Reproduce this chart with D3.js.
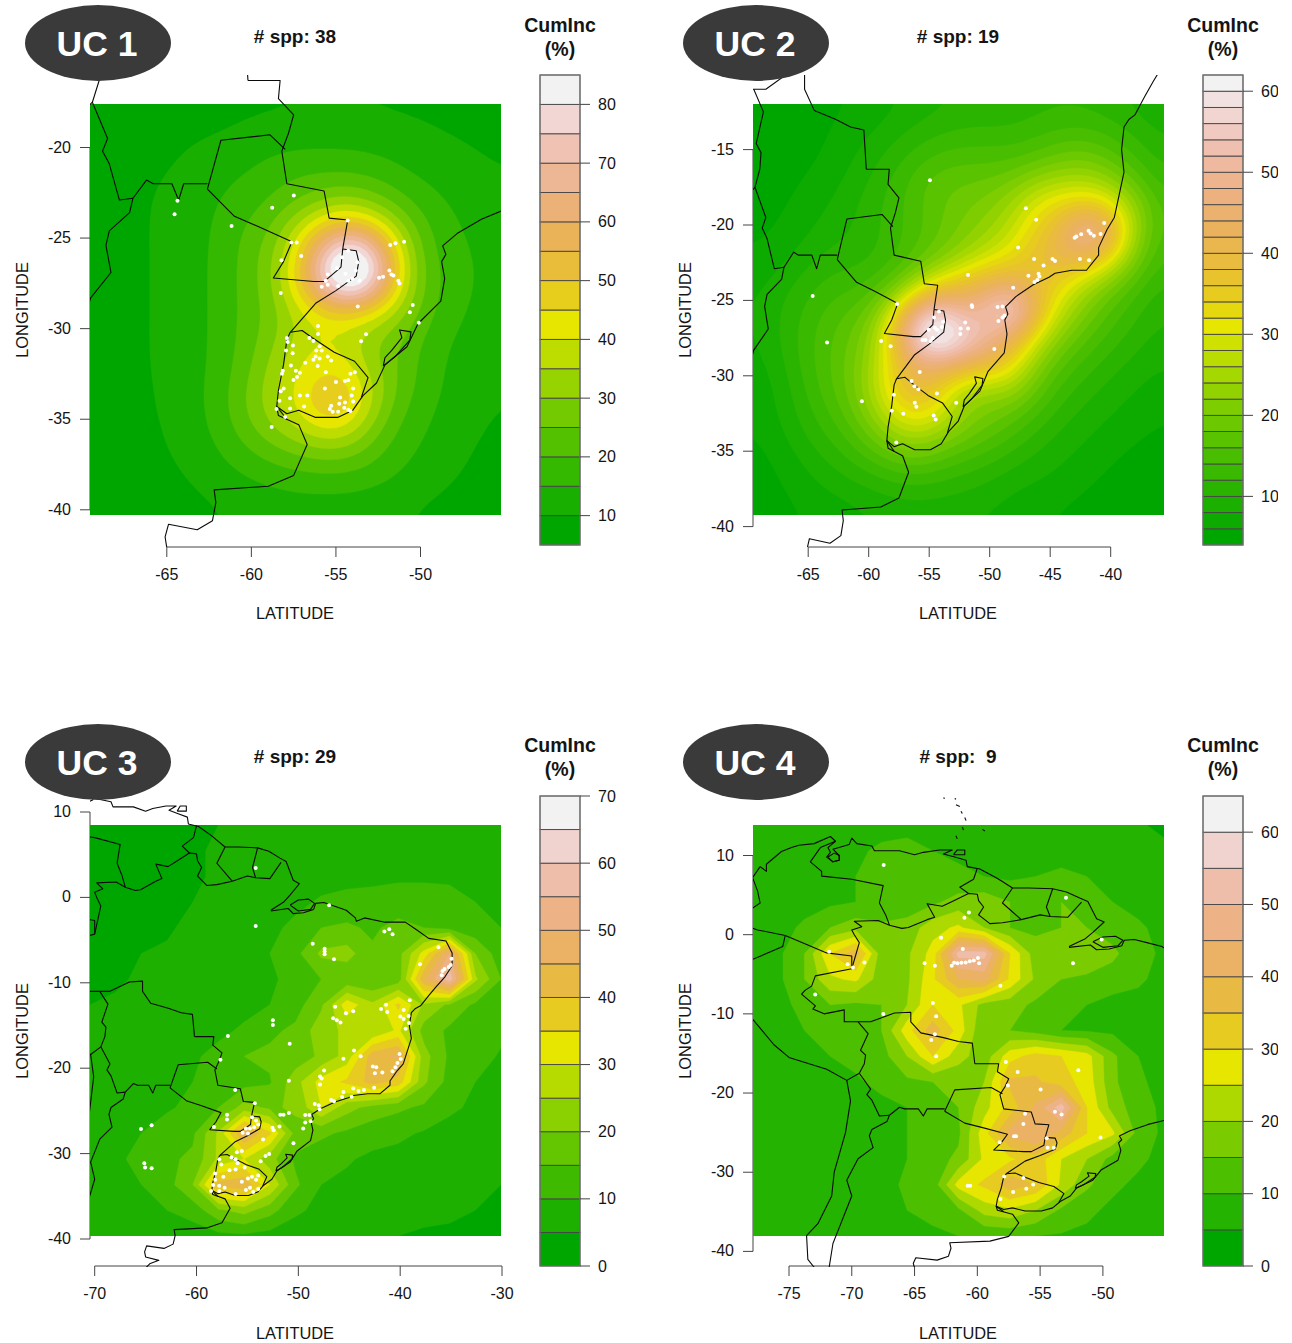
<!DOCTYPE html>
<html><head><meta charset="utf-8">
<style>html,body{margin:0;padding:0;background:#fff}svg{display:block}text{font-family:"Liberation Sans",Arial,sans-serif;fill:#141414}</style>
<script src="https://cdn.jsdelivr.net/npm/d3@7"></script>
</head><body><svg id="c" width="1292" height="1343"></svg>
<script>
// ---------- country outlines (lon, lat) ----------
const caribbeanCoast=[[-77.3,8.6],[-76.8,8.0],[-76.8,8.9],[-75.6,10.5],[-74.8,11.0],[-74.2,11.3],[-73,11.5],[-71.7,12.4],[-71.3,11.8],[-71.9,11.0],[-71.7,10.4],[-72,9.8],[-71.5,9.2],[-71,9.4],[-71,10],[-71.5,10.8],[-70.2,11.4],[-70,12.2],[-69.6,11.5],[-68.4,11.2],[-68.2,10.6],[-66.2,10.6],[-65,10.1],[-64.3,10.4],[-63,10.7],[-62,10.7],[-62.7,10.2],[-61.8,9.8],[-60.9,9.4],[-60.8,8.6],[-59.8,8.3],[-58.5,7.2],[-58.1,6.8],[-57.2,5.9],[-55.9,5.9],[-54,5.8],[-52.9,5.4],[-51.8,4.6],[-51.2,4.2],[-50.5,2.0],[-49.9,1.6],[-50.8,0.3],[-51.4,-0.5],[-52.7,-1.5]];
const atlanticCoast=[[-52.7,-1.6],[-51,-1.3],[-50.5,-1.9],[-49.5,-1.8],[-48.5,-1.4],[-48.3,-0.7],[-47.5,-0.6],[-46.5,-1],[-45.3,-1.5],[-44.4,-2.4],[-44.3,-2.8],[-43.5,-2.4],[-41.5,-2.9],[-39.5,-2.9],[-38.5,-3.7],[-37.2,-4.8],[-35.5,-5.1],[-34.9,-6.5],[-34.9,-8],[-35.6,-9.3],[-36.5,-10.5],[-37.2,-11.5],[-38.0,-12.7],[-38.5,-13],[-38.9,-13.5],[-39.1,-15],[-38.9,-16.5],[-39.3,-18],[-39.7,-19.5],[-40.3,-20.3],[-41,-21.5],[-41.0,-22],[-42,-23],[-43.2,-23],[-44.6,-23.2],[-45.1,-23.46],[-46.4,-23.96],[-47.84,-24.75],[-48.69,-25.43],[-48.5,-25.9],[-48.75,-26.3],[-48.57,-27.24],[-48.8,-28.48],[-50.15,-29.73],[-50.8,-31],[-52.1,-32],[-52.6,-33],[-53.4,-33.7],[-54.0,-34.5],[-54.9,-34.9],[-56.2,-34.9],[-57.2,-34.5],[-57.9,-34.7],[-58.5,-34.3],[-58.4,-34.8],[-57.2,-35.3],[-56.7,-36.4],[-57.5,-38.1],[-59,-38.7],[-62.2,-38.9],[-62.1,-39.6],[-62.3,-40.6],[-63.2,-41.1],[-64.9,-40.8],[-65.1,-41.5],[-65,-42.1],[-63.7,-42.5],[-64.6,-42.9],[-65,-43.4]];
const marajoIsland=[[-50.8,-0.9],[-50,-0.3],[-49,-0.2],[-48.4,-0.7],[-48.8,-1.4],[-50,-1.6],[-50.8,-0.9]];
const patosLagoon=[[-52.2,-32.06],[-51.5,-31.54],[-50.63,-30.63],[-50.56,-30.18],[-51.24,-30.07],[-51.1,-30.5],[-51.7,-31.2],[-52.1,-31.6],[-52.2,-32.06]];
const maracaiboRing=[[-71.9,9.8],[-71.4,10.3],[-71,10],[-71,9.4],[-71.5,9.2],[-71.9,9.8]];
const pacificCoast=[[-77.3,8.6],[-77.9,7.2],[-77.5,5.5],[-77.3,4],[-78.7,2.5],[-79,1.5],[-80,0.8],[-80.5,-0.5],[-81,-2.2],[-79.8,-2.5],[-80.3,-3.4],[-81.2,-4.5],[-81.2,-6],[-79.7,-7.2],[-78.5,-9.5],[-77.2,-12],[-76.2,-13.9],[-75,-15.5],[-72,-17],[-70.4,-18.4],[-70.1,-21],[-70.5,-25],[-71.4,-30],[-71.6,-33],[-72.7,-36.5],[-73.6,-38],[-73.5,-41],[-73,-42],[-73.8,-43]];
const andesBorder=[[-67,-22.8],[-67.2,-23.6],[-68.4,-24.6],[-68.6,-25.4],[-68.3,-26.9],[-69.5,-28.3],[-70.4,-31],[-70,-33],[-70.5,-35],[-71,-37],[-71.5,-39],[-71.8,-42],[-71.5,-44]];
const chileBolivia=[[-70.4,-18.4],[-69.4,-17.5],[-68.5,-19.5],[-68.8,-20.2],[-68.4,-20.9],[-67.8,-22.9],[-67,-22.8]];
const boliviaArgentina=[[-67,-22.8],[-66.2,-21.8],[-65.8,-22],[-64.7,-22],[-64.3,-22.9],[-64,-22],[-62.6,-22]];
const peruBolivia=[[-69.4,-17.5],[-69,-16.3],[-68.9,-15.2],[-69.3,-14.6],[-68.9,-13.2],[-68.7,-12.5],[-69.5,-11]];
const brazilWest=[[-60.2,-16.3],[-60.4,-13.7],[-61.5,-13.5],[-62.7,-13],[-64.5,-12.4],[-65.3,-11],[-65.3,-9.8],[-66.6,-9.9],[-68.5,-11],[-69.5,-11],[-70.6,-11],[-70.6,-9.5],[-72.2,-10],[-73.1,-9.4],[-72.9,-9],[-74,-7.5],[-73.7,-7],[-73.2,-6.5],[-72.9,-5.2],[-70,-4.3],[-69.4,-1],[-69.8,0],[-70,0.6],[-69.2,1],[-69.8,1.7],[-67.9,1.8],[-67,1.2],[-66,0.8],[-65.5,0.9],[-64,1.9],[-63.4,2.2],[-64,3.9],[-62.8,3.6],[-62,4.2],[-60.7,5.2],[-60,5.1],[-59.9,4.3],[-59.5,3.5],[-59.9,2.5],[-59,1.4],[-58,1.5],[-56.5,1.9],[-55,2.5],[-54.2,2.3],[-52.8,2.2],[-51.7,4.1]];
const brazilSouthWest=[[-60.2,-16.3],[-58.3,-16.3],[-58.4,-17.3],[-57.5,-18.2],[-57.8,-19.2],[-58.2,-20.2],[-57.9,-22],[-55.7,-22.4],[-55.4,-23.9],[-54.3,-24],[-54.6,-25.6]];
const paraguayNorth=[[-58.0,-20.1],[-58.9,-19.3],[-61.8,-19.6],[-62.6,-22.3]];
const paraguaySouth=[[-62.6,-22.3],[-61,-23.8],[-59.5,-24.4],[-57.6,-25.2],[-58.1,-26.3],[-58.7,-27.2],[-56.3,-27.4],[-55.7,-27.4],[-54.7,-26.6],[-54.6,-25.6]];
const misionesEast=[[-54.6,-25.6],[-53.8,-25.7],[-53.65,-26.3],[-53.8,-27.1],[-55,-27.9],[-56.2,-28.6],[-57.7,-30.2]];
const uruguayLoop=[[-57.7,-30.2],[-57,-30.1],[-56.4,-30.5],[-55.1,-31.3],[-53.9,-31.8],[-53.1,-32.7],[-53.5,-33.8]];
const uruguayRiver=[[-57.7,-30.2],[-57.9,-30.6],[-58.1,-32],[-58.4,-33.4],[-58.5,-34.3]];
const parana=[[-58.5,-34.3],[-57.9,-35]];
const venezuelaColombia=[[-71.3,11.8],[-72.5,11],[-73.3,9.2],[-72.4,8],[-72.4,7.4],[-70,7],[-67.5,6.2],[-67.8,4],[-67.3,2.5],[-67,1.2]];
const colombiaEcuador=[[-79,1.4],[-77.5,0.6],[-75.3,-0.1]];
const colombiaPeru=[[-75.3,-0.1],[-73.5,-1.3],[-72,-2.3],[-70,-2.7],[-70,-4.2]];
const ecuadorPeru=[[-75.3,-0.1],[-75.5,-1.5],[-78.3,-3.4],[-79,-5],[-80.3,-3.4]];
const guyanaVenezuela=[[-60.7,5.2],[-61.4,6],[-60.3,7],[-60,8.4]];
const guyanaSuriname=[[-57.2,5.9],[-58,4],[-56.5,1.9]];
const surinameGuiana=[[-54,5.8],[-54.5,3.5],[-54.2,2.3]];
const antilles=[[[-62.7,17.3],[-62.6,17.2]],[[-61.8,17.2],[-61.7,17.1]],[[-61.7,16.4],[-61.4,16.2]],[[-61.3,15.6],[-61.2,15.3]],[[-61,14.8],[-60.9,14.4]],[[-61.2,13.6],[-61.1,13.2]],[[-61.7,12.5],[-61.6,12.1]],[[-59.6,13.3],[-59.4,13.1]]];
const trinidad=[[-61.9,10.1],[-61,10.1],[-61,10.7],[-61.6,10.7],[-61.9,10.1]];
const borders=[caribbeanCoast,atlanticCoast,marajoIsland,patosLagoon,maracaiboRing,pacificCoast,andesBorder,chileBolivia,boliviaArgentina,peruBolivia,brazilWest,brazilSouthWest,paraguayNorth,paraguaySouth,misionesEast,uruguayLoop,uruguayRiver,parana,venezuelaColombia,colombiaEcuador,colombiaPeru,ecuadorPeru,guyanaVenezuela,guyanaSuriname,surinameGuiana,trinidad,...antilles];

// ---------- UC 1 ----------
const grid1=[
6,6,7,7,7,8,9,9,9.5,9.5,9.5,9.5,9,9,8,7,6,
6,6,7,8,9,9.5,10.5,11,11.5,11.5,11.5,11.5,11,10.5,10,9,8,
6,7,8,9,11,12,13,15,16,16,16,15,13.5,12,11,10.5,9.5,
7,8,9,10.5,12,14,15.5,18,21,21,21,20,17,14.5,13,11.5,10,
7,8,9.5,11,13,15,18,21,24,31,36,30,23,18,15,13,11,
7,8,9.5,11,13,15.5,21,24,38,55,62,55,36,20,16,14,11.5,
7,8,9.5,11,13,16,21.5,27,42,72,112,88,42,22,17,15,12,
7,8,9.5,11,13,16,21.5,27,46,76,108,84,44,22,18,15,12,
7,8,9.5,11,13,16,21.5,25,36,42,46,42,34,22,17,14,11.5,
7,8,9.5,11,13,16,21.5,27,35,41,36,30,26,19,15,13,11,
7,8,9.5,11,13,16,22,30,40,42,41,30,24,18,14,12,10.5,
7,8,9,11,13,17,24,33,41,50,51,36,24,18,13.5,11.5,10,
7,8,9,10.5,13,17,25,33,41,52,52,34,20,16,13,11,9.5,
6.5,7.5,8.5,10,12.5,15.5,21,27,31,36,36,24,18,15,12,10,9,
6,7,8,9.5,11,14,16.5,19,21,22,22,20,16,13,11,9.5,8,
6,6.5,7,8,10,11,13,14,15,15,15,14,13,11,10,8.5,7,
6,6,6.5,7,8,9.5,10.5,11,11.5,11.5,11.5,11,10,9,8,7,6];
const points1=[[-64.37,-22.94],[-64.54,-23.69],[-61.17,-24.34],[-58.77,-23.33],[-57.49,-22.65],[-54.31,-24.03],[-57.63,-25.25],[-57.32,-25.25],[-57.05,-25.99],[-58.22,-26.22],[-58.26,-28.03],[-51.79,-25.38],[-51.48,-25.29],[-50.97,-25.2],[-53.71,-28.78],[-50.46,-28.69],[-50.63,-29.09],[-50.1,-29.68],[-53.22,-30.31],[-53.51,-30.7],[-56.06,-29.86],[-56.06,-30.29],[-57.9,-30.52],[-57.85,-30.74],[-57.54,-30.93],[-57.95,-31.2],[-57.56,-31.36],[-56.57,-30.52],[-56.33,-30.68],[-56.16,-31.2],[-55.96,-30.97],[-55.84,-31.2],[-56.2,-31.54],[-55.96,-31.65],[-56.33,-31.72],[-56.08,-32.06],[-55.48,-31.54],[-55.28,-31.76],[-58.14,-32.33],[-58.19,-32.49],[-57.66,-32.03],[-57.37,-32.33],[-57.13,-32.44],[-57.3,-32.67],[-57.51,-32.83],[-56.81,-31.88],[-55.6,-32.4],[-55,-32.94],[-54.46,-32.89],[-54.27,-32.85],[-54.14,-32.49],[-53.88,-32.4],[-53.98,-33.3],[-55.65,-33.3],[-58.09,-33.3],[-58.26,-33.46],[-57.71,-33.84],[-57.13,-33.69],[-56.69,-33.69],[-58.34,-33.98],[-58.51,-34.43],[-57.71,-34.41],[-56.88,-34.3],[-58,-34.88],[-58.8,-35.43],[-55.28,-34.25],[-55.36,-34.43],[-54.75,-33.8],[-54.8,-34.14],[-54.46,-34.07],[-55.19,-34.59],[-54.87,-34.59],[-54.51,-34.36],[-54.27,-34.48],[-54.07,-33.69],[-53.98,-34.02],[-54.14,-34.54],[-54.63,-26.06],[-54.27,-25.7],[-53.73,-26.33],[-53.83,-26.79],[-54.44,-26.97],[-54.94,-26.67],[-55.48,-27.01],[-55.84,-27.69],[-55.48,-27.58],[-55.6,-27.35],[-54.87,-27.65],[-54.27,-27.35],[-54.02,-27.24],[-53.61,-27.35],[-52.45,-27.19],[-52.21,-27.13],[-51.84,-26.79],[-51.72,-27.01],[-51.6,-27.06],[-51.31,-27.35],[-51.24,-27.51]];
const xTicks1=[-65,-60,-55,-50], yTicks1=[-20,-25,-30,-35,-40];
const legendTicks1=[10,20,30,40,50,60,70,80];

// ---------- UC 2 ----------
const grid2=[
5,5,5,5.5,6,7,8,9,10,10,10,11,11,11,10,9,8,
5,5,5,6,7,8,10,11,12,12,12,13,14,14,13,11,9,
5,5,5.5,6,8,10,12,14,15,15,14.5,15,18,19,16,13,10.5,
5,5,6,7,9,11,14,18,18,18,19,24,25,26,22,16,12,
5,5.5,7,8,10,12,14.5,17,19,21,24,32,35,36,33,22,13.5,
5.5,6,7.5,9,10,12,14,17,20,23,26,36,38,64,46,20,14,
6,7,9,11,11,12,14.5,18,22,28,32,38,44,40,32,18,13,
7,9,11,13,13,14,19,30,38,42,42,38,32,25,19,14,11,
7.5,10,12,15,16,20,40,60,46,48,74,40,28,20,15,12,10,
7,10,13,16,18,25,54,80,66,52,44,30,21,16,13,11,9,
7,9,13,16,19,27,40,48,44,44,36,22,16,13,11,9,8,
6,8,12,16,19,30,42,38,24,22,27,18,13,11,9,8,7,
6,8,11,14,18,26,34,34,24,20,18,14,11,9,8,7,6,
5.5,7,10,12,15,20,26,23,19,17,14,11,9,8,7,6,5.5,
5,6,8,10,12,14,16,15,13,12,10,9,8,7,6,5,5,
5,5.5,7,8,9,10,11,11,10,9.5,8,7.5,7,6,5,4.5,4.5,
5,5,6,6.5,7,8,8,8,8,7.5,7,6,5.5,5,4.5,4.2,4.2];
const points2=[[-54.94,-17.04],[-47.01,-18.89],[-46.16,-19.65],[-40.54,-19.86],[-41.83,-20.38],[-41.66,-20.57],[-41.39,-20.71],[-40.84,-20.6],[-42.44,-20.62],[-42.84,-20.76],[-42.98,-20.84],[-47.65,-21.49],[-46.33,-22.25],[-44.81,-22.25],[-44.6,-22.39],[-45.55,-22.69],[-42.54,-22.25],[-41.79,-22.34],[-45.96,-23.23],[-46.8,-23.37],[-45.89,-23.42],[-46.06,-23.64],[-46.3,-23.78],[-51.79,-23.31],[-48.06,-24.16],[-64.63,-24.7],[-57.65,-25.24],[-51.48,-25.32],[-51.45,-25.43],[-49.35,-25.43],[-48.94,-25.41],[-48.77,-26],[-48.94,-26.14],[-49.28,-26.36],[-52.02,-26.47],[-51.79,-26.87],[-52.4,-26.87],[-52.43,-27.23],[-54.6,-26.14],[-54.19,-25.73],[-53.85,-26.41],[-53.96,-26.76],[-54.53,-26.82],[-55.04,-26.95],[-54.36,-26.95],[-54.7,-27.5],[-55.55,-27.63],[-55.31,-27.63],[-54.87,-27.69],[-63.44,-27.8],[-58.97,-27.69],[-58.19,-28.04],[-49.62,-28.23],[-55.78,-29.75],[-56.46,-30.35],[-56.22,-30.7],[-55.89,-30.89],[-54.36,-31.17],[-57.92,-31.25],[-56.19,-31.79],[-56.06,-32.06],[-52.77,-31.79],[-58.09,-32.31],[-57.14,-32.52],[-54.63,-32.63],[-54.46,-32.9],[-57.72,-34.43],[-60.56,-31.68]];
const xTicks2=[-65,-60,-55,-50,-45,-40], yTicks2=[-15,-20,-25,-30,-35,-40];
const legendTicks2=[10,20,30,40,50,60];

// ---------- UC 3 ----------
const grid3=[
3,3,3.5,4,4.5,5,6,7,7.5,8,8,8,8,8,8,8,8,
3,3.5,3.5,4,4.5,5.5,6,7,8,8.5,8.5,9,9,9,9,8.5,8,
3,3.5,4,4,4.5,5.5,6.5,7,8,8.5,9,9,9.5,9.5,9.5,9,8.5,
2.5,3,3.5,4.5,5,6,7,8,9,10.5,11,11.5,11.5,11.5,11,10,9,
3,3.5,4,4.5,6,7,8,9,11,15,16,14,17,15,13,11.5,10,
3.5,4,5,5.5,7,8,9,10,13.5,21,22,16,18,32,50,20,12,
4,4.5,5.5,6,7,8,9,9,12,15,16,15,17,44,58,26,15,
5,5.5,6,6.5,7,8,8,10,13,19,33,26,36,24,19,14,13,
5,6,6.5,7,8,8.5,11,14,16,23,26,25,31,18,14,13,11,
6,7,7.5,8,9,12,15,16,17,21,27,43,46,22,14,12,9.5,
6,7,8,9,10,11,13,14.5,23,32,36,42,38,21,13,10,8,
6,7,8,9.5,11,15,22,19,21,30,22,18,16,14,11,9,7,
7,9,10,12,14,26,46,36,18,16,14,12,11,9.5,8,7,6,
7,9,11.5,14,16,26,30,22,14,12,10.5,9,8.5,8,7,6,5.5,
7,8,10,13,20,42,44,30,16,10,9,8,7,6.5,6,5.5,5,
6,7,8,10,12,19,22,17,11,8.5,8,7,6.5,6,5.5,5,4.5,
6,6,6.5,7,7.5,8.5,9,8,7,6.5,6,5.5,5,4.5,4.5,4,3.5];
const points3=[[-54.19,3.44],[-46.98,-0.92],[-54.19,-3.36],[-41.55,-3.98],[-41.07,-3.74],[-40.75,-4.32],[-48.59,-5.42],[-47.42,-6],[-47.42,-6.33],[-47.42,-6.67],[-46.5,-7.24],[-36.24,-5.85],[-34.95,-7.19],[-38.05,-7.82],[-35.84,-8.63],[-35.64,-8.39],[-35.23,-8.15],[-35.03,-7.91],[-35.92,-9.11],[-39.06,-12.03],[-46.38,-12.8],[-41.39,-12.56],[-41.87,-13.08],[-41.27,-13.42],[-44.61,-13.32],[-45.33,-13.56],[-46.58,-14.14],[-46.22,-14.38],[-45.86,-14.66],[-52.5,-14.38],[-52.5,-14.95],[-39.66,-13.18],[-39.98,-13.95],[-39.66,-14.23],[-39.18,-13.9],[-39.13,-14.71],[-39.46,-15.38],[-56.92,-16.24],[-50.85,-17.15],[-44.53,-17.92],[-43.88,-18.59],[-45.57,-18.88],[-40.06,-18.35],[-39.94,-18.93],[-40.26,-19.4],[-40.46,-19.88],[-40.75,-20.36],[-42.68,-19.79],[-42.35,-19.88],[-42.48,-20.6],[-41.75,-20.51],[-57.65,-19.02],[-47.47,-20.27],[-47.87,-20.98],[-47.71,-21.22],[-50.93,-21.46],[-47.87,-21.9],[-42.56,-22.28],[-44.61,-22.37],[-44.09,-22.66],[-43.56,-22.56],[-45.57,-22.8],[-44.77,-23.33],[-45.7,-23.38],[-46.78,-23.71],[-46.5,-23.86],[-56.2,-22.56],[-54.27,-24.1],[-48.39,-24.19],[-47.99,-24.34],[-47.91,-24.81],[-51.77,-25.44],[-51.45,-25.44],[-50.93,-25.25],[-49.32,-25.49],[-48.91,-25.49],[-49.32,-26.35],[-48.79,-26.2],[-49.52,-27.07],[-57,-25.44],[-57,-26.01],[-58.29,-26.88],[-64.41,-26.68],[-65.45,-27.11],[-54.55,-25.73],[-54.15,-26.11],[-53.94,-26.59],[-54.35,-26.92],[-54.75,-27.07],[-54.95,-27.64],[-55.47,-27.55],[-55.15,-27.07],[-52.54,-26.97],[-52.42,-27.26],[-51.85,-26.83],[-53.46,-28.36],[-50.48,-28.79],[-56.04,-29.84],[-55.55,-29.7],[-52.86,-30.04],[-53.22,-30.28],[-53.7,-30.9],[-57.77,-30.66],[-57.57,-31.28],[-56.56,-30.42],[-56.16,-30.66],[-55.96,-31.14],[-55.27,-31.62],[-56.16,-31.86],[-56.76,-31.95],[-58.17,-32.34],[-58.17,-33.05],[-57.36,-32.72],[-58.37,-33.68],[-57.77,-33.77],[-57.24,-34.01],[-58.57,-34.39],[-57.77,-34.39],[-55.55,-33.29],[-54.95,-32.91],[-54.55,-32.72],[-53.94,-32.57],[-54.15,-33.05],[-55.15,-34.25],[-54.75,-34.01],[-54.43,-34.49],[-53.94,-34.15],[-56.16,-34.73],[-65.13,-31.14],[-65.05,-31.62],[-64.41,-31.71]];
const xTicks3=[-70,-60,-50,-40,-30], yTicks3=[10,0,-10,-20,-30,-40];
const legendTicks3=[0,10,20,30,40,50,60,70];

// ---------- UC 4 ----------
const grid4=[
6,6,7,7,8,8,8,7,7,7,7,7,7,6.5,6,5.5,4,
6,7,7,8,9,11,12,10,9,8,8,8,8,7,7,6.5,6,
6,7,8,9,10,11,11,11,11,10,9,10,11,10,8,7,6,
6,7,8,9,10,11,12,14,17,18,15,13,15,13,10,8,7,
6,8,11,15,18,16,17,23,26,20,15,14,15,15,13,11,8,
6,9,15,30,38,17,19,27,52,52,30,17,20,19,16,12,9,
6,9,15,24,26,17,19,29,40,42,29,19,15,14,13,11,8,
6,8,12,15,14,15,20,30,26,18,17,14,13,10,8,8,6.5,
6,7,10,11,13,15,28,38,28,15,15,13,10,9.5,9,8,7,
6,7,9,10,11,13,20,30,22,17,28,32,30,27,16,10,8,
5.5,6.5,8,9,9.5,11,14,15,16,20,36,36,32,28,16,11,8,
5,6,7.5,8,8.5,9,10,13,15,23,32,41,53,30,18,12,9,
5,6,7,8,8.5,9,10,13,14,28,42,45,38,30,26,13,9,
5,6,7,8,8,9,10,13,16,26,29,33,25,20,13,11,8.5,
5,6,7,8,8,9,10.5,12,27,31,38,35,24,16,11,9,7,
5,6,7,7.5,8,9,10,11.5,14,22,24,20,14,11,9,8,6,
5,6,6.5,7,7.5,8,8,9,10,10.5,11,10,9.5,9,8,7,5];
const points4=[[-67.46,8.81],[-52.94,4.67],[-60.67,2.81],[-61.03,2.13],[-62.89,-0.4],[-50.1,-0.61],[-71.8,-2.16],[-61.16,-1.8],[-52.38,-3.61],[-64.2,-3.61],[-63.38,-3.92],[-68.99,-3.51],[-70.33,-3.72],[-69.91,-4.13],[-59.95,-2.94],[-60.28,-3.25],[-60.6,-3.35],[-60.93,-3.51],[-61.26,-3.56],[-61.58,-3.61],[-61.85,-3.56],[-62.04,-3.92],[-59.86,-3.61],[-58.16,-6.46],[-72.91,-7.55],[-63.54,-8.63],[-67.49,-10.03],[-63.28,-10.29],[-63.38,-12.57],[-63.67,-13.29],[-63.28,-15.36],[-57.73,-16.09],[-56.79,-17.33],[-51.96,-17.12],[-57.57,-19.04],[-54.96,-19.55],[-56.2,-22.61],[-53.82,-22.35],[-53.29,-22.71],[-56.33,-23.9],[-57.08,-25.46],[-56.92,-25.46],[-54.47,-25.71],[-50.19,-25.61],[-58.22,-26.23],[-54.4,-26.91],[-53.91,-26.91],[-57.86,-30.53],[-56.33,-30.73],[-55.55,-31.56],[-56.1,-32.08],[-57.15,-32.49],[-58.16,-33.37],[-60.77,-31.72],[-60.57,-31.72]];
const xTicks4=[-75,-70,-65,-60,-55,-50], yTicks4=[10,0,-10,-20,-30,-40];
const legendTicks4=[0,10,20,30,40,50,60];

const titles=["UC 1","UC 2","UC 3","UC 4"];
const sppLabels=["# spp: 38","# spp: 19","# spp: 29","# spp:  9"];
const levels1=d3.range(5,86,5), levels2=d3.range(4,63,2), levels3=d3.range(0,71,5), levels4=d3.range(0,66,5);

// R terrain.colors palette
function terrain(n){
  const k=Math.floor(n/2), h=[4/12,2/12,0], s=[1,1,0], v=[0.65,0.9,0.95], out=[];
  const hsv=(H,S,V)=>{const i=Math.floor(H*6),f=H*6-i,p=V*(1-S),q=V*(1-f*S),t=V*(1-(1-f)*S);
    const [r,g,b]=[[V,t,p],[q,V,p],[p,V,t],[p,q,V],[t,p,V],[V,p,q]][i%6];
    return d3.rgb(r*255,g*255,b*255).formatHex();};
  for(let i=0;i<k;i++){const a=k>1?i/(k-1):0;out.push(hsv(h[0]+(h[1]-h[0])*a,s[0]+(s[1]-s[0])*a,v[0]+(v[1]-v[0])*a));}
  const m=n-k;
  for(let i=1;i<=m;i++){const a=i/m;out.push(hsv(h[1]+(h[2]-h[1])*a,s[1]+(s[2]-s[1])*a,v[1]+(v[2]-v[1])*a));}
  return out;
}

// Drawing step only: resample the read grid finer and soften it so the contour edges render round.
function softField(grid,N,k,r){
  const M=(N-1)*k+1, out=new Float64Array(M*M);
  for(let j=0;j<M;j++)for(let i=0;i<M;i++){
    const gx=i/k,gy=j/k,i0=Math.min(Math.floor(gx),N-2),j0=Math.min(Math.floor(gy),N-2),a=gx-i0,b=gy-j0;
    out[j*M+i]=grid[j0*N+i0]*(1-a)*(1-b)+grid[j0*N+i0+1]*a*(1-b)+grid[(j0+1)*N+i0]*(1-a)*b+grid[(j0+1)*N+i0+1]*a*b;
  }
  d3.blur2({data:out,width:M,height:M},r);
  return {data:out,size:M};
}

const panels=[
 {i:0,grid:grid1,soft:true,pts:points1,xT:xTicks1,yT:yTicks1,lT:legendTicks1,lev:levels1,L:90,T:104,xA:[-65,166.8,-50,420.5],yA:[-20,147.5,-40,509.8],axY:547,clipT:75,clipB:547,barT:75,barB:545,barX:540,cx:295,labY:613,top:0},
 {i:1,grid:grid2,soft:true,pts:points2,xT:xTicks2,yT:yTicks2,lT:legendTicks2,lev:levels2,L:753,T:104,xA:[-65,808.2,-40,1110.7],yA:[-15,149.6,-40,526.6],axY:547,clipT:75,clipB:547,barT:75,barB:545,barX:1203,cx:958,labY:613,top:0},
 {i:2,grid:grid3,soft:false,pts:points3,xT:xTicks3,yT:yTicks3,lT:legendTicks3,lev:levels3,L:90,T:825,xA:[-70,94.7,-30,502],yA:[10,812,-40,1239],axY:1266,clipT:796,clipB:1267,barT:796,barB:1266,barX:540,cx:295,labY:1333,top:720},
 {i:3,grid:grid4,soft:false,pts:points4,xT:xTicks4,yT:yTicks4,lT:legendTicks4,lev:levels4,L:753,T:825,xA:[-75,789,-50,1102.9],yA:[10,855.5,-40,1251.4],axY:1266,clipT:796,clipB:1267,barT:796,barB:1266,barX:1203,cx:958,labY:1333,top:720}
];
const SIZE=411, N=17;
const svg=d3.select("#c");
const defs=svg.append("defs");
defs.append("clipPath").attr("id","page").append("rect").attr("x",0).attr("y",0).attr("width",1278).attr("height",1343);
const root=svg.append("g").attr("clip-path","url(#page)");

panels.forEach(p=>{
  const g=root.append("g");
  const x=d3.scaleLinear().domain([p.xA[0],p.xA[2]]).range([p.xA[1],p.xA[3]]);
  const y=d3.scaleLinear().domain([p.yA[0],p.yA[2]]).range([p.yA[1],p.yA[3]]);
  const colors=terrain(p.lev.length-1);
  const f=p.soft?softField(p.grid,N,4,2):{data:p.grid,size:N};
  const gx=d3.scaleLinear().domain([0.5,f.size-0.5]).range([p.L,p.L+SIZE]);
  const gy=d3.scaleLinear().domain([0.5,f.size-0.5]).range([p.T,p.T+SIZE]);
  const id="r"+p.i, id2="m"+p.i;
  defs.append("clipPath").attr("id",id).append("rect").attr("x",p.L).attr("y",p.T).attr("width",SIZE).attr("height",SIZE);
  defs.append("clipPath").attr("id",id2).append("rect").attr("x",p.L).attr("y",p.clipT).attr("width",SIZE).attr("height",p.clipB-p.clipT);

  // axes
  const ax=g.append("g").attr("stroke","#444").attr("stroke-width",1).attr("fill","none");
  ax.append("line").attr("x1",x(p.xT[0])).attr("x2",x(p.xT[p.xT.length-1])).attr("y1",p.axY).attr("y2",p.axY);
  p.xT.forEach(t=>ax.append("line").attr("x1",x(t)).attr("x2",x(t)).attr("y1",p.axY).attr("y2",p.axY+10));
  ax.append("line").attr("x1",p.L).attr("x2",p.L).attr("y1",y(p.yT[0])).attr("y2",y(p.yT[p.yT.length-1]));
  p.yT.forEach(t=>ax.append("line").attr("x1",p.L-10).attr("x2",p.L).attr("y1",y(t)).attr("y2",y(t)));
  p.xT.forEach(t=>g.append("text").attr("x",x(t)).attr("y",p.axY+33).attr("text-anchor","middle").attr("font-size",16).text(t));
  p.yT.forEach(t=>g.append("text").attr("x",p.L-19).attr("y",y(t)+5).attr("text-anchor","end").attr("font-size",16).text(t));
  g.append("text").attr("x",p.cx).attr("y",p.labY+5.5).attr("text-anchor","middle").attr("font-size",16.4).text("LATITUDE");
  g.append("text").attr("transform",`translate(${p.L-62},${p.T+206}) rotate(-90)`).attr("text-anchor","middle").attr("font-size",16.4).text("LONGITUDE");

  // filled contours
  const field=g.append("g").attr("clip-path",`url(#${id})`);
  field.append("rect").attr("x",p.L).attr("y",p.T).attr("width",SIZE).attr("height",SIZE).attr("fill",colors[0]);
  const path=d3.geoPath(d3.geoTransform({point(a,b){this.stream.point(gx(a),gy(b));}}));
  const cs=d3.contours().size([f.size,f.size]).thresholds(p.lev.slice(1,-1))(f.data);
  cs.forEach((c,k)=>field.append("path").attr("d",path(c)).attr("fill",colors[k+1]).attr("stroke",colors[k+1]).attr("stroke-width",0.4));

  // borders
  const line=d3.line().x(d=>x(d[0])).y(d=>y(d[1]));
  const bg=g.append("g").attr("clip-path",`url(#${id2})`).attr("fill","none").attr("stroke","#0a0a0a").attr("stroke-width",1.1).attr("stroke-linejoin","round");
  borders.forEach(b=>bg.append("path").attr("d",line(b)));

  // sites
  g.append("g").selectAll("circle").data(p.pts).join("circle").attr("cx",d=>x(d[0])).attr("cy",d=>y(d[1])).attr("r",2).attr("fill","#fff");

  // colour key
  const ly=d3.scaleLinear().domain([p.lev[0],p.lev[p.lev.length-1]]).range([p.barB,p.barT]);
  const bar=g.append("g");
  colors.forEach((c,k)=>bar.append("rect").attr("x",p.barX).attr("width",40).attr("y",ly(p.lev[k+1])).attr("height",ly(p.lev[k])-ly(p.lev[k+1])).attr("fill",c).attr("stroke","#444").attr("stroke-width",0.9));
  bar.append("rect").attr("x",p.barX).attr("y",p.barT).attr("width",40).attr("height",p.barB-p.barT).attr("fill","none").attr("stroke","#777").attr("stroke-width",1.2);
  p.lT.forEach(t=>{
    bar.append("line").attr("x1",p.barX+40).attr("x2",p.barX+50).attr("y1",ly(t)).attr("y2",ly(t)).attr("stroke","#444");
    bar.append("text").attr("x",p.barX+58).attr("y",ly(t)+5.5).attr("font-size",16).text(t);
  });
  g.append("text").attr("x",p.barX+20).attr("y",p.top+31.5).attr("text-anchor","middle").attr("font-size",19.5).attr("font-weight","bold").text("CumInc");
  g.append("text").attr("x",p.barX+20).attr("y",p.top+55.5).attr("text-anchor","middle").attr("font-size",19.5).attr("font-weight","bold").text("(%)");

  // headings
  const ex=p.L===90?98:756, ey=p.top===0?43:762;
  g.append("ellipse").attr("cx",ex).attr("cy",ey).attr("rx",73).attr("ry",38).attr("fill","#3a3a3a");
  g.append("text").attr("x",ex-1).attr("y",ey+12.5).attr("text-anchor","middle").attr("font-size",35.5).attr("font-weight","bold").style("fill","#fff").text(titles[p.i]);
  g.append("text").attr("x",p.cx).attr("y",p.top+43).attr("text-anchor","middle").attr("font-size",19).attr("font-weight","bold").style("white-space","pre").text(sppLabels[p.i]);
});
</script></body></html>
